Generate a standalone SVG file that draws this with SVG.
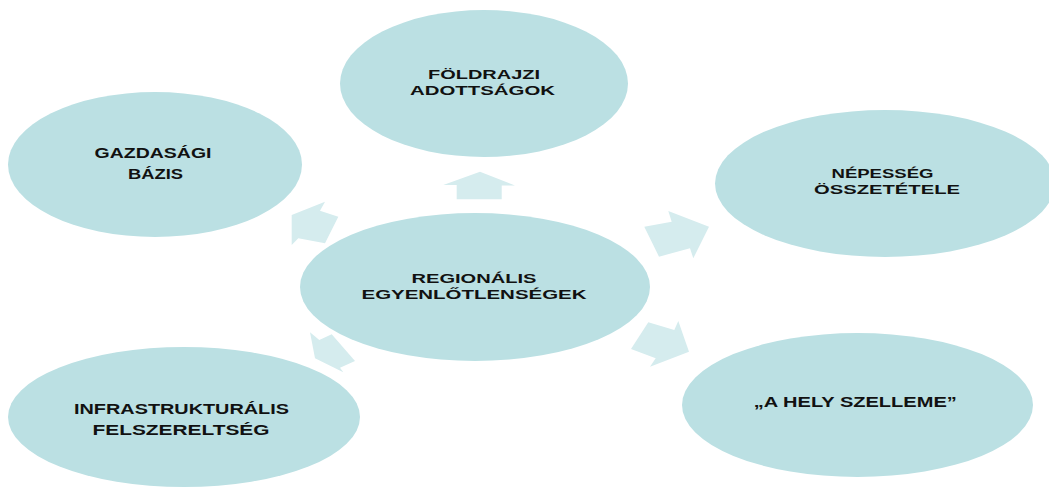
<svg xmlns="http://www.w3.org/2000/svg" width="1049" height="490" viewBox="0 0 1049 490">
<style>
.node{fill:#bbe0e3}
.arrow{fill:#d5ecee}
.t{font-family:"Liberation Sans",Arial,sans-serif;font-weight:bold;font-size:14px;fill:#111;text-anchor:middle}
.s{font-size:13px}
</style>
<rect width="1049" height="490" fill="#ffffff"/>
<g id="connectors">
<polygon class="arrow" points="456.7,199.3 456.7,185 443.3,185 480,171.7 515,185.5 501.7,185.5 501.7,199.3"/>
<polygon class="arrow" points="291.7,215 325,201.7 320,210.7 338.3,216.7 325,243.3 298.3,238.3 291.7,245"/>
<polygon class="arrow" points="644.3,226.7 671.7,221.7 668.3,211 709,226.7 693.3,258.3 690,248.3 659,256.7"/>
<polygon class="arrow" points="648.3,322.3 674.3,330 678.3,321 689,351.7 650,366.7 655.7,358.3 631,349"/>
<polygon class="arrow" points="310,332.3 319.3,340 331.7,334.3 355,361 340,367.7 343.3,372.3 315,358.3"/>
</g>
<g id="node-center">
<ellipse class="node" cx="475" cy="287" rx="175" ry="74"/>
<text class="t s" x="474" y="283" textLength="125" lengthAdjust="spacingAndGlyphs">REGIONÁLIS</text>
<text class="t s" x="474" y="298.5" textLength="225" lengthAdjust="spacingAndGlyphs">EGYENLŐTLENSÉGEK</text>
</g>
<g id="node-foldrajzi">
<ellipse class="node" cx="484" cy="83.5" rx="144" ry="73.5"/>
<text class="t s" x="484" y="79.3" textLength="112" lengthAdjust="spacingAndGlyphs">FÖLDRAJZI</text>
<text class="t s" x="482.5" y="94.5" textLength="145" lengthAdjust="spacingAndGlyphs">ADOTTSÁGOK</text>
</g>
<g id="node-gazdasagi">
<ellipse class="node" cx="155" cy="164.5" rx="147" ry="72.5"/>
<text class="t" x="153" y="158.3" textLength="117" lengthAdjust="spacingAndGlyphs">GAZDASÁGI</text>
<text class="t" x="155.5" y="179" textLength="55" lengthAdjust="spacingAndGlyphs">BÁZIS</text>
</g>
<g id="node-nepesseg">
<ellipse class="node" cx="885" cy="183.5" rx="170" ry="73.5"/>
<text class="t s" x="882.5" y="178.3" textLength="102" lengthAdjust="spacingAndGlyphs">NÉPESSÉG</text>
<text class="t s" x="887" y="193.5" textLength="146" lengthAdjust="spacingAndGlyphs">ÖSSZETÉTELE</text>
</g>
<g id="node-infra">
<ellipse class="node" cx="184" cy="417" rx="176" ry="70"/>
<text class="t" x="181.5" y="414.3" textLength="215" lengthAdjust="spacingAndGlyphs">INFRASTRUKTURÁLIS</text>
<text class="t" x="181" y="435" textLength="177" lengthAdjust="spacingAndGlyphs">FELSZERELTSÉG</text>
</g>
<g id="node-hely">
<ellipse class="node" cx="857.5" cy="405" rx="175.5" ry="72"/>
<text class="t" x="855.3" y="406.7" textLength="203" lengthAdjust="spacingAndGlyphs">„A HELY SZELLEME”</text>
</g>
</svg>
